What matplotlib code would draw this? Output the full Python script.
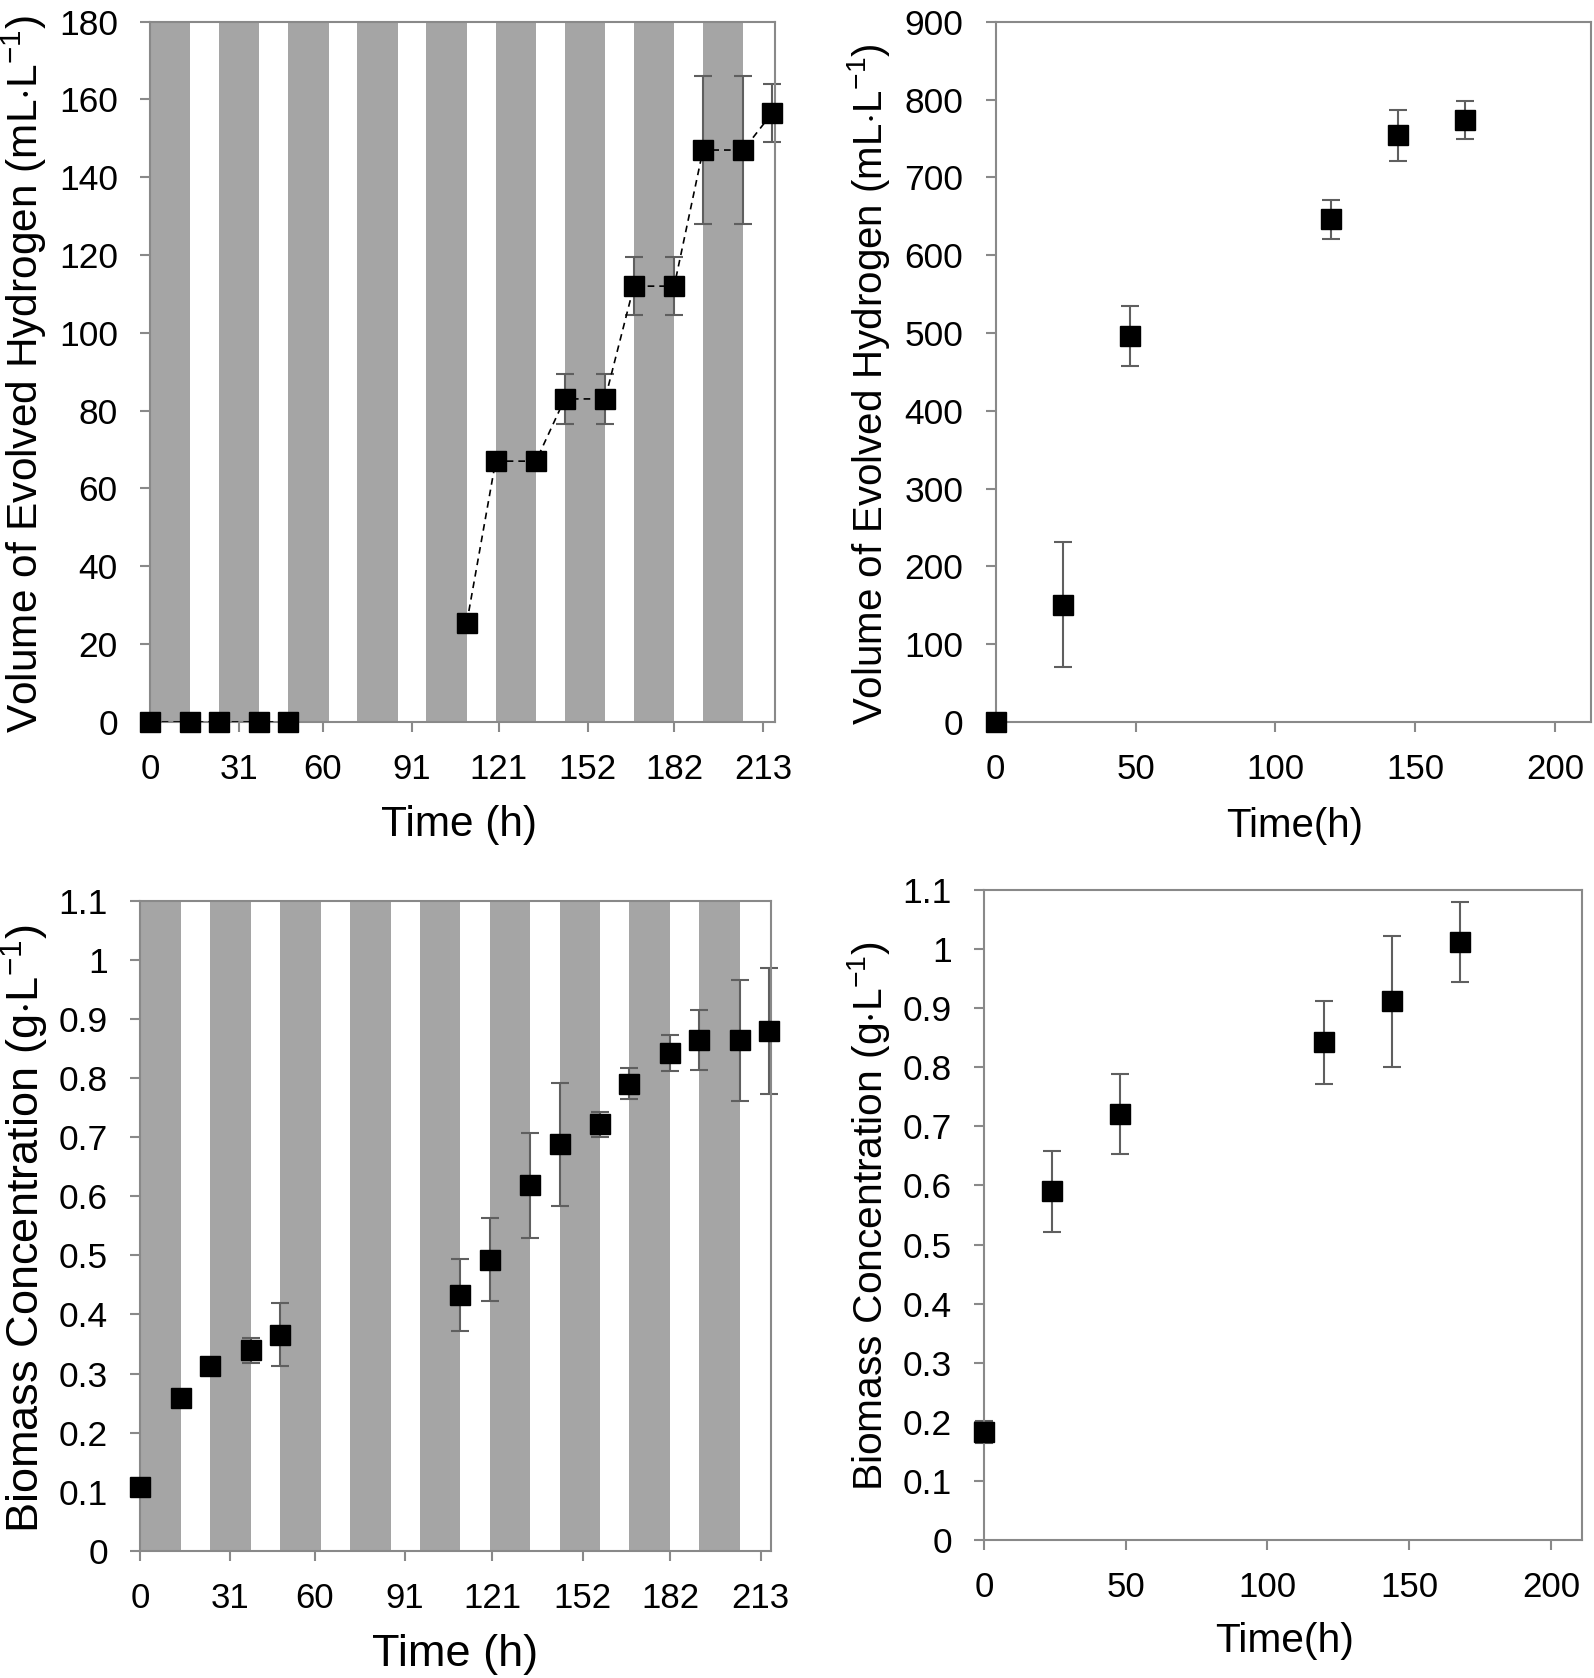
import numpy as np
import matplotlib
matplotlib.use("Agg")
import matplotlib.pyplot as plt

plt.rcParams['font.family'] = ['Liberation Sans', 'DejaVu Sans']
plt.rcParams['mathtext.fontset'] = 'custom'
plt.rcParams['mathtext.rm'] = 'Liberation Sans'
plt.rcParams['mathtext.it'] = 'Liberation Sans:italic'
plt.rcParams['mathtext.bf'] = 'Liberation Sans:bold'

# light/dark cycle (grey = dark period), hours
dark_start = [0, 24, 48, 72, 96, 120, 144, 168, 192]
dark_len = 14

# cyclic illumination runs (left column)
cyc_time = [0, 14, 24, 38, 48, 110, 120, 134, 144, 158, 168, 182, 192, 206, 216]
cyc_h2 = [0, 0, 0, 0, 0, 25.5, 67, 67, 83, 83, 112, 112, 147, 147, 156.5]
cyc_h2_err = [0, 0, 0, 0, 0, 0, 0, 0, 6.5, 6.5, 7.4, 7.4, 19, 19, 7.5]
cyc_gap = 5  # no samples between 48 h and 110 h
cyc_bio = [0.108, 0.258, 0.312, 0.339, 0.366, 0.433, 0.493, 0.619, 0.688,
           0.722, 0.791, 0.843, 0.865, 0.864, 0.880]
cyc_bio_err = [0, 0, 0, 0.021, 0.053, 0.061, 0.071, 0.089, 0.104,
               0.021, 0.027, 0.030, 0.051, 0.102, 0.106]
cyc_ticks = [0, 31, 60, 91, 121, 152, 182, 213]

# continuous illumination runs (right column)
con_time = [0, 24, 48, 120, 144, 168]
con_h2 = [0, 151, 496, 646, 754, 774]
con_h2_err = [0, 80, 38, 25, 32.5, 24.4]
con_bio = [0.183, 0.590, 0.721, 0.842, 0.912, 1.012]
con_bio_err = [0.018, 0.068, 0.068, 0.07, 0.111, 0.068]
con_ticks = [0, 50, 100, 150, 200]

h2_label = 'Volume of Evolved Hydrogen (mL$\\cdot$L$^{-1}$)'
bio_label = 'Biomass Concentration (g$\\cdot$L$^{-1}$)'

W, H = 1594, 1678
fig = plt.figure(figsize=(W / 100, H / 100), dpi=100)

AX_GREY = '#898989'
ERR_GREY = '#5f5f5f'


def make_axes(l, r, t, b):
    return fig.add_axes([l / W, 1 - b / H, (r - l) / W, (b - t) / H])


def style(ax, xlim, ylim, xticks, yticks, xlab, ylab, xsize, ysize, labsize,
          xlab_pos, ylab_pos):
    ax.set_xlim(*xlim)
    ax.set_ylim(*ylim)
    ax.set_xticks(xticks)
    ax.set_yticks(yticks)
    ax.set_yticklabels([f'{v:g}' for v in yticks])
    for s in ax.spines.values():
        s.set_color(AX_GREY)
        s.set_linewidth(1.5)
    ax.tick_params(axis='both', direction='out', length=7.2, width=1.5,
                   color=AX_GREY)
    ax.tick_params(axis='x', labelsize=xsize, pad=15)
    ax.tick_params(axis='y', labelsize=ysize, pad=16)
    ax.set_xlabel(xlab, fontsize=labsize, va='center')
    ax.set_ylabel(ylab, fontsize=labsize, va='center')
    ax.xaxis.set_label_coords(*xlab_pos)
    ax.yaxis.set_label_coords(*ylab_pos)


def stripes(ax):
    for s in dark_start:
        ax.axvspan(s, s + dark_len, color='#a5a5a5', lw=0, zorder=0)


def points(ax, x, y, err):
    ax.errorbar(x, y, yerr=err, fmt='none', ecolor=ERR_GREY, elinewidth=1.5,
                capsize=6.8, capthick=1.5, zorder=2, clip_on=False)
    ax.plot(x, y, 's', color='black', ms=13.8, zorder=4, clip_on=False)


# top left: hydrogen, light/dark cycle
ax1 = make_axes(150, 775, 21.7, 721.7)
stripes(ax1)
ax1.plot(cyc_time[:cyc_gap], cyc_h2[:cyc_gap], color='black', lw=1.2,
         ls=(0, (4, 3)), zorder=3)
ax1.plot(cyc_time[cyc_gap:], cyc_h2[cyc_gap:], color='black', lw=1.2,
         ls=(0, (4, 3)), zorder=3)
points(ax1, cyc_time, cyc_h2, cyc_h2_err)
style(ax1, (0, 217), (0, 180), cyc_ticks, list(range(0, 181, 20)),
      'Time (h)', h2_label, 25, 25.5, 30.5, (0.495, -0.148), (-0.201, 0.497))

# top right: hydrogen, continuous light
ax2 = make_axes(995.7, 1590.7, 21.7, 722)
points(ax2, con_time, con_h2, con_h2_err)
style(ax2, (0, 212.8), (0, 900), con_ticks, list(range(0, 901, 100)),
      'Time(h)', h2_label, 25, 25.5, 29, (0.503, -0.149), (-0.213, 0.482))

# bottom left: biomass, light/dark cycle
ax3 = make_axes(140, 771, 901, 1550.7)
stripes(ax3)
points(ax3, cyc_time, cyc_bio, cyc_bio_err)
style(ax3, (0, 216.6), (0, 1.1), cyc_ticks, list(np.round(np.arange(0, 1.11, 0.1), 1)),
      'Time (h)', bio_label, 25, 25.5, 32.5, (0.499, -0.159), (-0.183, 0.496))

# bottom right: biomass, continuous light
ax4 = make_axes(984, 1582, 890, 1540)
points(ax4, con_time, con_bio, con_bio_err)
style(ax4, (0, 211), (0, 1.1), con_ticks, list(np.round(np.arange(0, 1.11, 0.1), 1)),
      'Time(h)', bio_label, 25, 25.5, 29.3, (0.502, -0.155), (-0.193, 0.499))

fig.savefig('out.png', dpi=100)
